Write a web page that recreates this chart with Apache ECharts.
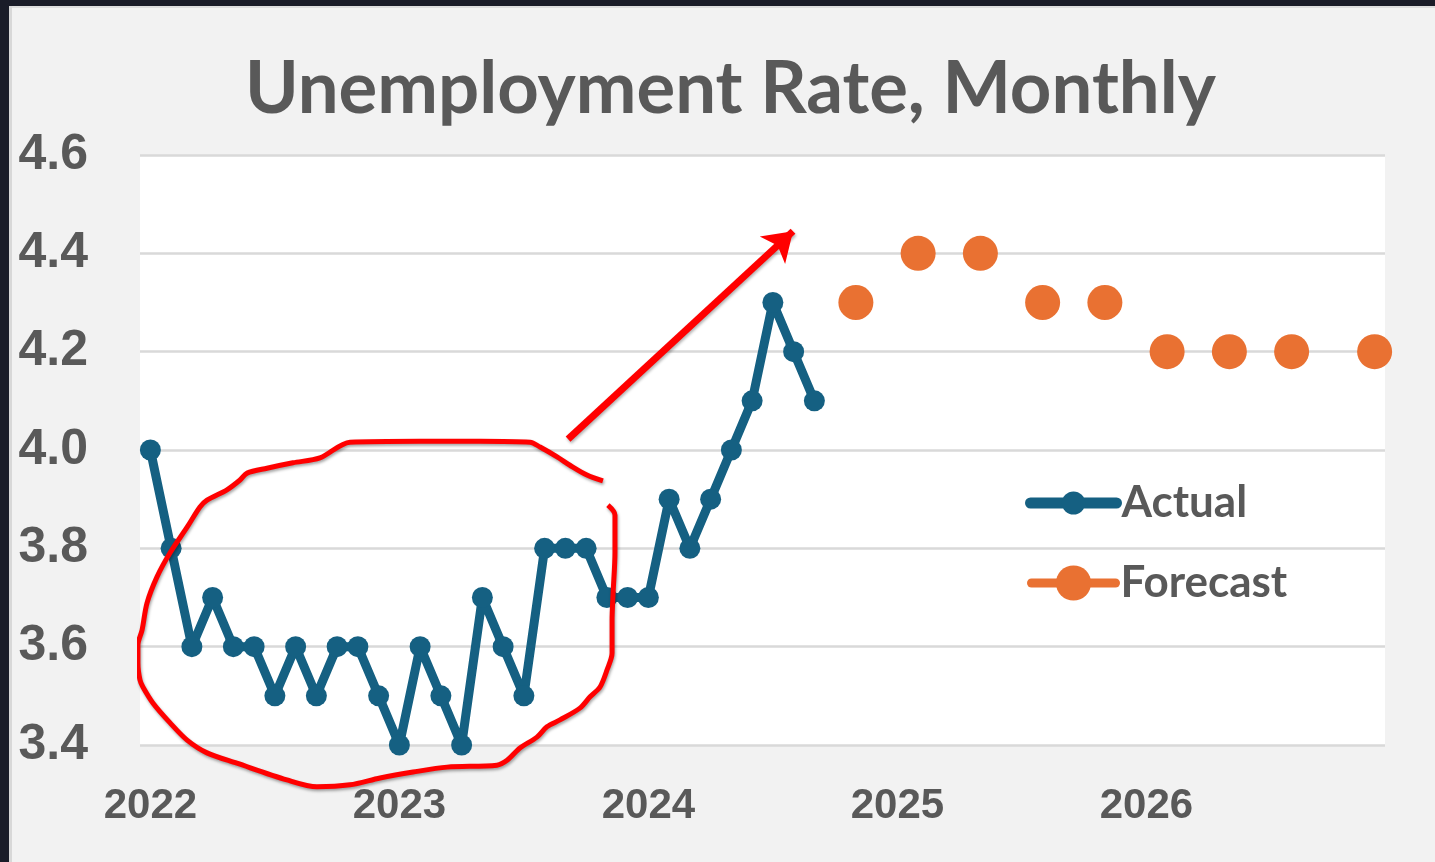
<!DOCTYPE html>
<html>
<head>
<meta charset="utf-8">
<title>Unemployment Rate, Monthly</title>
<script src="https://cdn.jsdelivr.net/npm/echarts@6/dist/echarts.min.js"></script>
<style>
  html, body { margin: 0; padding: 0; width: 1435px; height: 862px; overflow: hidden; background: #1a1c28; }
  #chart { position: absolute; left: 0; top: 0; width: 1435px; height: 862px; }
  .frame { position: absolute; pointer-events: none; }
</style>
</head>
<body>
<div id="chart"></div>
<div class="frame" style="left:0;top:0;width:1435px;height:6px;background:#1a1c28"></div>
<div class="frame" style="left:0;top:0;width:9px;height:862px;background:#1a1c28"></div>
<div class="frame" style="left:9px;top:6px;width:1426px;height:2px;background:#dedede"></div>
<div class="frame" style="left:9px;top:6px;width:3px;height:856px;background:#d8d8d8"></div>
<script>
// Calendar years shown on the month axis
const years = ['2022', '2023', '2024', '2025', '2026'];

// Monthly unemployment rate (%), Jan 2022 - Sep 2024
const actualRate = [
  4.0, 3.8, 3.6, 3.7, 3.6, 3.6, 3.5, 3.6, 3.5, 3.6, 3.6, 3.5,
  3.4, 3.6, 3.5, 3.4, 3.7, 3.6, 3.5, 3.8, 3.8, 3.8, 3.7, 3.7,
  3.7, 3.9, 3.8, 3.9, 4.0, 4.1, 4.3, 4.2, 4.1
];

// Forecast points: month index (0 = Jan 2022) and rate (%)
const forecastMonthIndex = [34, 37, 40, 43, 46, 49, 52, 55, 59];
const forecastRate = [4.3, 4.4, 4.4, 4.3, 4.3, 4.2, 4.2, 4.2, 4.2];

// Value axis range and step
const rateMin = 3.4;
const rateMax = 4.6;
const rateStep = 0.2;

// Hand-drawn loop around the 2022-2023 plateau, in (month index, rate) units
const circledPath = [
  [21.81, 3.937], [21.04, 3.949], [20.22, 3.969], [19.60, 3.986], [18.78, 4.006],
  [18.30, 4.016], [15.89, 4.018], [12.99, 4.018], [9.62, 4.016], [8.17, 3.984],
  [6.87, 3.974], [5.62, 3.963], [4.66, 3.953], [4.32, 3.939], [3.69, 3.919],
  [2.73, 3.898], [2.39, 3.884], [1.77, 3.843], [0.95, 3.791], [0.32, 3.742],
  [-0.16, 3.689], [-0.40, 3.634], [-0.60, 3.603], [-0.60, 3.567], [-0.50, 3.532],
  [-0.36, 3.518], [0.13, 3.485], [0.95, 3.445], [1.77, 3.410], [2.73, 3.384],
  [4.17, 3.363], [6.58, 3.329], [8.03, 3.315], [9.62, 3.319], [11.07, 3.333],
  [12.66, 3.345], [14.30, 3.355], [16.70, 3.359], [17.19, 3.369], [17.81, 3.394],
  [18.63, 3.416], [19.11, 3.437], [19.74, 3.451], [20.70, 3.475], [21.19, 3.498],
  [21.67, 3.518], [22.01, 3.553], [22.25, 3.587], [22.25, 3.654], [22.30, 3.709],
  [22.39, 3.791], [22.39, 3.868], [22.05, 3.888]
];

// Upward trend arrow, from tail to head
const trendArrow = [[20.13, 4.022], [30.97, 4.445]];

// Month categories, e.g. "2022-01"
const months = [];
years.forEach(function (y) {
  for (let m = 1; m <= 12; m++) months.push(y + '-' + String(m).padStart(2, '0'));
});

const forecastData = months.map(function (_, i) {
  const k = forecastMonthIndex.indexOf(i);
  return k >= 0 ? forecastRate[k] : null;
});

const textGray = '#595959';
const blue = '#156082';
const orange = '#E97132';
const red = '#FF0000';

const chart = echarts.init(document.getElementById('chart'), null, { renderer: 'canvas' });

const legendText = {
  fontFamily: 'Lato',
  fontWeight: 'bold',
  fontSize: 44,
  color: textGray
};

chart.setOption({
  animation: false,
  backgroundColor: '#f2f2f2',
  title: {
    text: 'Unemployment Rate, Monthly',
    left: 245,
    top: 53,
    padding: 0,
    textStyle: {
      fontFamily: 'Lato',
      fontWeight: 'bold',
      fontSize: 72.5,
      color: textGray
    }
  },
  legend: [
    {
      data: ['Actual'],
      left: 1025,
      top: 481,
      padding: 0,
      itemWidth: 86,
      itemHeight: 29,
      selectedMode: false,
      lineStyle: { width: 11, cap: 'round' },
      textStyle: legendText
    },
    {
      data: ['Forecast'],
      left: 1027,
      top: 561,
      padding: 0,
      itemWidth: 84,
      itemHeight: 44,
      selectedMode: false,
      lineStyle: { width: 9, color: orange, opacity: 1, cap: 'round' },
      textStyle: legendText
    }
  ],
  grid: {
    left: 140,
    right: 50,
    top: 155,
    bottom: 117,
    show: true,
    backgroundColor: '#ffffff',
    borderWidth: 0,
    containLabel: false,
    outerBoundsMode: 'none'
  },
  xAxis: [
    {
      type: 'category',
      data: months,
      boundaryGap: true,
      axisLine: { show: false },
      axisTick: { show: false },
      splitLine: { show: false },
      axisLabel: {
        interval: function (index) { return index % 12 === 0; },
        formatter: function (v) { return v.slice(0, 4); },
        margin: 40,
        fontFamily: 'Liberation Sans',
        fontWeight: 'bold',
        fontSize: 42,
        color: textGray
      }
    },
    {
      type: 'value',
      min: -0.5,
      max: months.length - 0.5,
      show: false
    }
  ],
  yAxis: {
    type: 'value',
    min: rateMin,
    max: rateMax,
    interval: rateStep,
    axisLine: { show: false },
    axisTick: { show: false },
    splitLine: { lineStyle: { color: '#d9d9d9', width: 2.5 } },
    axisLabel: {
      formatter: function (v) { return v.toFixed(1); },
      margin: 52,
      fontFamily: 'Liberation Sans',
      fontWeight: 'bold',
      fontSize: 50,
      color: textGray
    }
  },
  series: [
    {
      name: 'Actual',
      type: 'line',
      data: actualRate,
      symbol: 'circle',
      symbolSize: 21,
      showAllSymbol: true,
      lineStyle: { color: blue, width: 9, join: 'round' },
      itemStyle: { color: blue },
      z: 3
    },
    {
      name: 'Forecast',
      type: 'line',
      data: forecastData,
      symbol: 'circle',
      symbolSize: 35,
      showAllSymbol: true,
      connectNulls: false,
      lineStyle: { width: 0, color: orange },
      itemStyle: { color: orange },
      z: 3
    },
    {
      name: 'annotation',
      type: 'line',
      xAxisIndex: 1,
      data: circledPath,
      smooth: 0.3,
      symbol: 'none',
      clip: false,
      silent: true,
      lineStyle: {
        color: red,
        width: 5,
        shadowColor: 'rgba(0,0,0,0.35)',
        shadowBlur: 3,
        shadowOffsetX: 1,
        shadowOffsetY: 2
      },
      markLine: {
        silent: true,
        symbol: ['none', 'arrow'],
        symbolSize: 28,
        label: { show: false },
        emphasis: { disabled: true },
        lineStyle: {
          color: red,
          width: 7,
          type: 'solid',
          shadowColor: 'rgba(0,0,0,0.3)',
          shadowBlur: 3,
          shadowOffsetX: 1,
          shadowOffsetY: 2
        },
        data: [[{ coord: trendArrow[0] }, { coord: trendArrow[1] }]]
      },
      z: 6
    }
  ]
});
</script>
</body>
</html>
